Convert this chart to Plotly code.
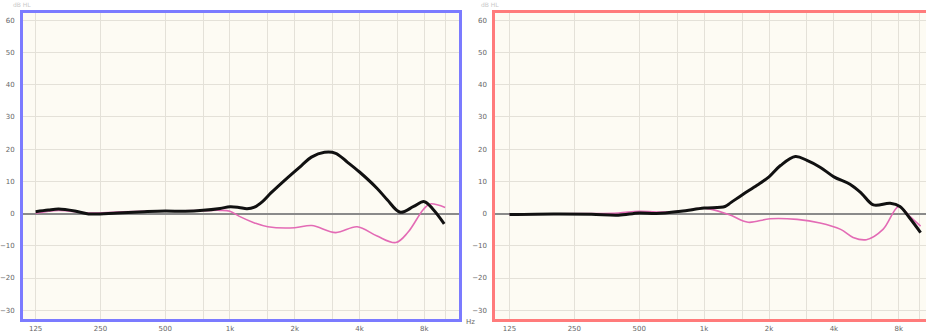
import numpy as np
import plotly.graph_objects as go

# Frequency response data (Hz, dB) — left ear
left_black_f = [125, 143, 160, 190, 220, 300, 400, 500, 620, 750, 900, 1000, 1100, 1200, 1300,
                1420, 1550, 1800, 2150, 2390, 2750, 3100, 3520, 4000, 4830, 5380, 6190, 7140, 8000,
                8820, 9900]
left_black_db = [0.6, 1.1, 1.4, 0.8, -0.1, 0.2, 0.6, 0.8, 0.7, 1.0, 1.6, 2.1, 1.9, 1.5, 2.0,
                 3.8, 6.4, 10.4, 14.9, 17.5, 19.0, 18.7, 15.9, 12.9, 7.8, 4.3, 0.4, 2.2, 3.7,
                 1.2, -3.2]

left_pink_f = [125, 160, 220, 300, 400, 500, 750, 900, 1000, 1100, 1300, 1500, 2000, 2400,
               3100, 3900, 4800, 5900, 6700, 7900, 8500, 10000]
left_pink_db = [0.1, 1.0, 0.2, 0.5, 0.7, 0.8, 0.9, 1.0, 0.7, -0.8, -2.9, -4.1, -4.4, -3.7,
                -5.9, -4.1, -6.9, -9.0, -5.9, 1.2, 3.0, 1.9]

# Right ear
right_black_f = [125, 200, 300, 400, 500, 600, 780, 1000, 1250, 1330, 1500, 1760, 2000, 2260,
                 2650, 3000, 3450, 4000, 4750, 5370, 6100, 7300, 8100, 8970, 10100]
right_black_db = [-0.3, -0.1, -0.2, -0.5, 0.2, 0.0, 0.7, 1.7, 2.2, 3.4, 5.8, 8.8, 11.4, 14.9,
                  17.7, 16.5, 14.4, 11.4, 9.1, 6.3, 2.7, 3.2, 2.2, -1.3, -5.9]

right_pink_f = [125, 200, 300, 400, 500, 600, 780, 1000, 1300, 1600, 2020, 2700, 3450, 4300,
                4910, 5660, 6760, 8000, 8970, 10100]
right_pink_db = [-0.3, -0.1, 0.0, 0.2, 0.7, 0.5, 0.7, 1.7, -0.3, -2.7, -1.6, -1.8, -2.9, -4.9,
                 -7.4, -8.1, -4.9, 2.2, -0.8, -3.9]

grid_freqs = [125, 250, 500, 750, 1000, 1500, 2000, 3000, 4000, 6000, 8000, 10000]
grid_labels = ["125", "250", "500", "", "1k", "", "2k", "", "4k", "", "8k", ""]
db_ticks = [-30, -20, -10, 0, 10, 20, 30, 40, 50, 60]

BLACK = "#111111"
PINK = "#e36bb5"
BLUE = "#7b7bff"
RED = "#ff7b7b"
GRID = "#e4e1d8"

fig = go.Figure()


def add_pair(bf, bd, pf, pd, xa, ya):
    fig.add_trace(go.Scatter(x=pf, y=pd, mode="lines", xaxis=xa, yaxis=ya,
                             line=dict(color=PINK, width=1.6, shape="spline", smoothing=1.0),
                             hoverinfo="skip", showlegend=False))
    fig.add_trace(go.Scatter(x=bf, y=bd, mode="lines", xaxis=xa, yaxis=ya,
                             line=dict(color=BLACK, width=3, shape="spline", smoothing=1.0),
                             hoverinfo="skip", showlegend=False))


add_pair(left_black_f, left_black_db, left_pink_f, left_pink_db, "x", "y")
add_pair(right_black_f, right_black_db, right_pink_f, right_pink_db, "x2", "y2")

W, H = 926, 333
ydom = [(H - 324) / H, (H - 12.7) / H]

xcommon = dict(type="log", tickmode="array", tickvals=grid_freqs, ticktext=grid_labels,
               showgrid=True, gridcolor=GRID, gridwidth=1.3, ticks="",
               tickfont=dict(size=7, color="#666666", family="DejaVu Sans"),
               ticklabelstandoff=1, zeroline=False, fixedrange=True)
ycommon = dict(range=[-32.75, 62.38], tickmode="array", tickvals=db_ticks,
               showgrid=True, gridcolor=GRID, gridwidth=1.3, ticks="",
               tickfont=dict(size=7, color="#666666", family="DejaVu Sans"),
               zeroline=True, zerolinecolor="#8a8a8a", zerolinewidth=1.5,
               ticklabelstandoff=4, fixedrange=True, domain=ydom)

fig.update_layout(
    width=W, height=H,
    margin=dict(l=0, r=0, t=0, b=0),
    paper_bgcolor="white",
    plot_bgcolor="#fdfbf3",
    xaxis=dict(xcommon, domain=[19 / W, 457 / W],
               range=[np.log10(109.1), np.log10(11600)],
               showline=True, linecolor=BLUE, linewidth=2.5, mirror=True),
    yaxis=dict(ycommon, anchor="x",
               showline=True, linecolor=BLUE, linewidth=2.5, mirror=True),
    xaxis2=dict(xcommon, domain=[493.3 / W, 1.0], anchor="y2",
                range=[np.log10(107.3), np.log10(10700)],
                showline=True, linecolor=RED, linewidth=2.5, mirror=True),
    yaxis2=dict(ycommon, anchor="x2",
                showline=True, linecolor=RED, linewidth=2.5, mirror=False),
)

# Axis unit label after the left panel
fig.add_annotation(text="Hz", xref="paper", yref="paper", x=462 / W, y=(H - 327) / H,
                   xanchor="left", yanchor="middle", showarrow=False,
                   font=dict(size=7, color="#666666", family="DejaVu Sans"))

# Faint header labels above each panel
for xp in (7 / W, 477 / W):
    fig.add_annotation(text="dB HL", xref="paper", yref="paper", x=xp, y=1.0,
                       xanchor="left", yanchor="top", yshift=1, showarrow=False,
                       font=dict(size=6, color="#c8c8c8", family="DejaVu Sans"))

fig.write_html("out.html")
